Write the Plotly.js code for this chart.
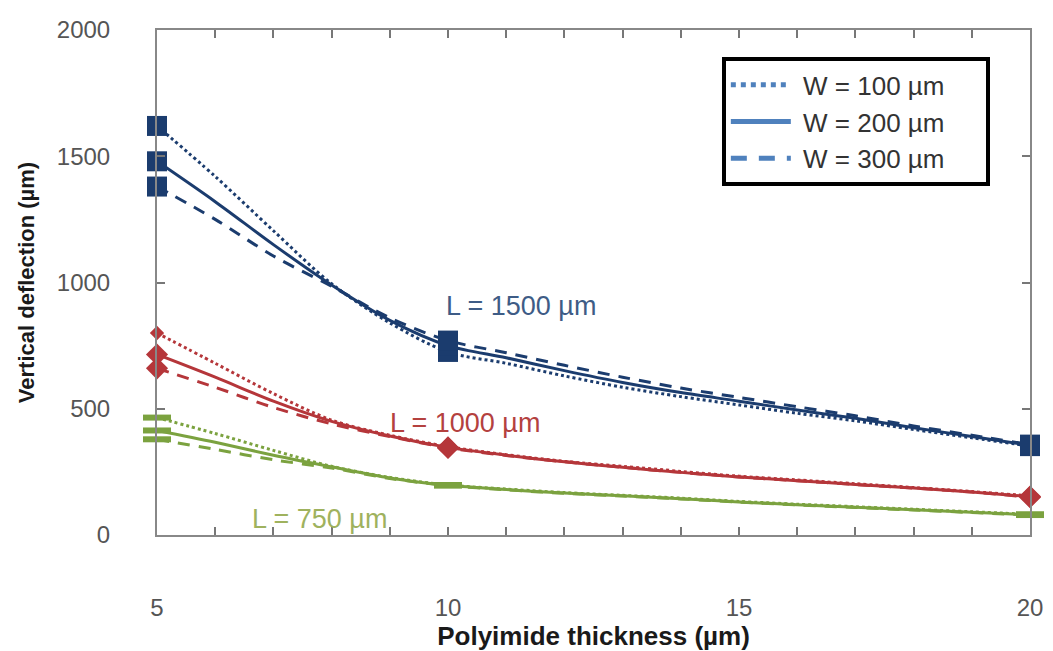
<!DOCTYPE html>
<html>
<head>
<meta charset="utf-8">
<script src="https://cdn.plot.ly/plotly-3.0.1.min.js"></script>
<style>html,body{margin:0;padding:0;background:#fff;}#chart{width:1053px;height:651px;}</style>
</head>
<body>
<div id="chart"></div>
<script>
// Polyimide thickness (µm)
const thickness = [5, 6, 7, 8, 9, 10, 11, 12, 13, 14, 15, 16, 17, 18, 19, 20];
// L = 1500 µm
const l1500_w100 = [1620, 1420, 1205, 995, 840, 725, 680, 630, 585, 548, 515, 482, 452, 418, 385, 352];
const l1500_w200 = [1480, 1320, 1150, 990, 850, 750, 702, 651, 604, 564, 530, 495, 462, 425, 390, 355];
const l1500_w300 = [1380, 1250, 1105, 985, 860, 770, 722, 672, 625, 582, 545, 508, 472, 432, 395, 358];
// L = 1000 µm
const l1000_w100 = [800, 680, 560, 455, 395, 350, 318, 292, 272, 252, 233, 218, 203, 188, 172, 155];
const l1000_w200 = [715, 625, 530, 450, 392, 347, 316, 290, 268, 248, 230, 215, 200, 186, 170, 152];
const l1000_w300 = [660, 585, 505, 440, 390, 345, 315, 290, 268, 248, 230, 215, 200, 186, 170, 150];
// L = 750 µm
const l750_w100 = [465, 402, 335, 272, 228, 198, 182, 168, 157, 146, 133, 122, 112, 102, 92, 82];
const l750_w200 = [414, 367, 316, 270, 226, 197, 180, 166, 155, 144, 131, 120, 110, 100, 90, 80];
const l750_w300 = [379, 339, 298, 265, 224, 196, 179, 165, 154, 143, 130, 119, 109, 99, 89, 79];

const markerThickness = [5, 10, 20];
const legendLabels = ['W = 100 µm', 'W = 200 µm', 'W = 300 µm'];
const groupLabels = ['L = 1500 µm', 'L = 1000 µm', 'L = 750 µm'];

const dashes = ['dot', 'solid', '12px,9px'];
const groups = [
  {series: [l1500_w100, l1500_w200, l1500_w300], color: '#1b3c6e', symbol: 'square', sizes: [20, 20, 20], label: groupLabels[0], labelColor: '#3e5c86', lx: 11.25, ly: 905},
  {series: [l1000_w100, l1000_w200, l1000_w300], color: '#b5363a', symbol: 'diamond', sizes: [11, 17, 17], label: groupLabels[1], labelColor: '#b4413f', lx: 10.3, ly: 443},
  {series: [l750_w100, l750_w200, l750_w300], color: '#7ba23f', symbol: 'line-ew', sizes: [20, 20, 20], label: groupLabels[2], labelColor: '#9fb25e', lx: 7.8, ly: 63}
];

function pick(arr) { return markerThickness.map(t => arr[thickness.indexOf(t)]); }

const traces = [];
groups.forEach(g => {
  g.series.forEach((s, i) => {
    traces.push({
      x: thickness, y: s, mode: 'lines', showlegend: false, hoverinfo: 'skip',
      line: {color: g.color, width: 3, dash: dashes[i], shape: 'spline', smoothing: 0.9}
    });
  });
});
groups.forEach(g => {
  g.series.forEach((s, i) => {
    const m = {symbol: g.symbol, size: g.sizes[i], color: g.color};
    if (g.symbol === 'line-ew') m.line = {color: g.color, width: 6};
    else m.line = {width: 0};
    traces.push({x: markerThickness, y: pick(s), mode: 'markers', showlegend: false, hoverinfo: 'skip', cliponaxis: false, marker: m});
  });
});
const nb = '\u00a0';
legendLabels.forEach((name, i) => {
  traces.push({x: [null], y: [null], mode: 'lines', name: nb + name + nb.repeat(5),
    line: {color: '#4f81bd', width: 5, dash: i === 2 ? '16px,12px' : dashes[i]}});
});

const tickFont = {family: 'Liberation Sans, Arial, sans-serif', size: 24, color: '#555555'};
const layout = {
  width: 1053, height: 651,
  margin: {l: 157, r: 23, t: 30, b: 116},
  paper_bgcolor: '#ffffff', plot_bgcolor: '#ffffff',
  showlegend: true,
  legend: {
    x: 0.647, y: 0.946, xanchor: 'left', yanchor: 'top',
    bordercolor: '#000000', borderwidth: 4, bgcolor: '#ffffff',
    font: {family: 'Liberation Sans, Arial, sans-serif', size: 26, color: '#333333'},
    itemwidth: 60, tracegroupgap: 0
  },
  xaxis: {
    range: [5, 20], tickvals: [5, 10, 15, 20], ticktext: ['5', '10', '15', '20'],
    ticks: 'inside', ticklen: 8, tickwidth: 2, tickcolor: '#777777',
    minor: {dtick: 1, tick0: 5, ticks: 'inside', ticklen: 8, tickwidth: 2, tickcolor: '#777777', showgrid: false},
    showline: true, linecolor: '#888888', linewidth: 2, mirror: 'allticks',
    showgrid: false, zeroline: false,
    tickfont: tickFont, ticklabelstandoff: 50,
    title: {text: 'Polyimide thickness (µm)', standoff: 2,
      font: {family: 'Liberation Sans, Arial, sans-serif', size: 26, color: '#1a1a1a', weight: 'bold'}},
    automargin: false, fixedrange: true
  },
  yaxis: {
    range: [0, 2000], dtick: 500, tick0: 0,
    ticks: 'inside', ticklen: 8, tickwidth: 2, tickcolor: '#777777',
    showline: true, linecolor: '#888888', linewidth: 2, mirror: 'allticks',
    showgrid: false, zeroline: false,
    tickfont: tickFont, ticklabelstandoff: 40,
    title: {text: 'Vertical deflection (µm)', standoff: 16,
      font: {family: 'Liberation Sans, Arial, sans-serif', size: 22, color: '#1a1a1a', weight: 'bold'}},
    automargin: false, fixedrange: true
  },
  annotations: groups.map(g => ({
    x: g.lx, y: g.ly, xref: 'x', yref: 'y', text: g.label, showarrow: false,
    font: {family: 'Liberation Sans, Arial, sans-serif', size: 27, color: g.labelColor}
  }))
};

Plotly.newPlot('chart', traces, layout, {staticPlot: true, displayModeBar: false});
</script>
</body>
</html>
